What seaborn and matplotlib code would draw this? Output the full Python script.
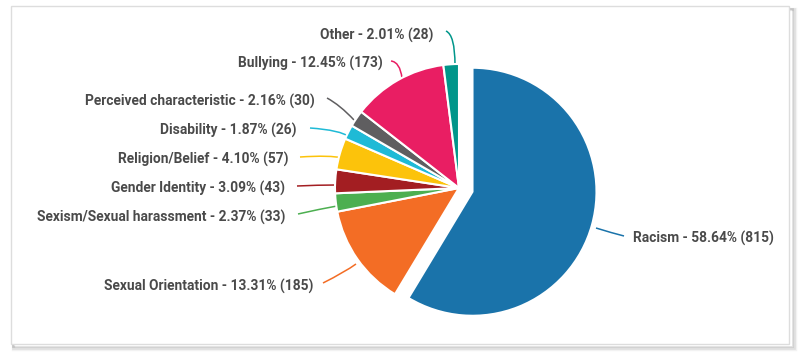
import matplotlib
matplotlib.use("Agg")
import matplotlib.pyplot as plt
import seaborn as sns
from matplotlib.patches import Rectangle
from matplotlib.path import Path
from matplotlib.patches import PathPatch

sns.set_theme(style="white")
plt.rcParams['font.family'] = ['Roboto', 'DejaVu Sans']

categories = ["Racism", "Sexual Orientation", "Sexism/Sexual harassment", "Gender Identity",
              "Religion/Belief", "Disability", "Perceived characteristic", "Bullying", "Other"]
counts = [815, 185, 33, 43, 57, 26, 30, 173, 28]
percents = ["58.64%", "13.31%", "2.37%", "3.09%", "4.10%", "1.87%", "2.16%", "12.45%", "2.01%"]
colors = ["#1a73aa", "#f36d25", "#4caf50", "#a31e22", "#fcc30b", "#1fbad6", "#5f5e60", "#e91e63", "#00968a"]

W, H = 800, 359
fig = plt.figure(figsize=(W / 100, H / 100), dpi=100)
ax = fig.add_axes([0, 0, 1, 1])
ax.set_xlim(0, W)
ax.set_ylim(H, 0)
ax.axis("off")

# card with shadow
for i, a in enumerate([0.05, 0.08, 0.12]):
    ax.add_patch(Rectangle((13, 9), 779 + (3 - i), 337 + (3 - i),
                           facecolor="none", edgecolor=(0, 0, 0, a), lw=2.5 - i * 0.6, zorder=0))
ax.add_patch(Rectangle((11, 6), 778, 338, facecolor="white", edgecolor="#dddddd", lw=1, zorder=1))

# pie drawn in a separate axes with y-up coordinates
pax = fig.add_axes([0, 0, 1, 1])
cx, cy, r = 459, H - 188, 124
explode = [14] + [0] * (len(counts) - 1)
wedges, _ = pax.pie(counts, colors=colors, startangle=90, counterclock=False, radius=r,
                    center=(cx, cy), explode=explode, frame=True,
                    wedgeprops=dict(edgecolor="white", linewidth=1.5))
pax.set_xlim(0, W)
pax.set_ylim(0, H)
pax.set_aspect("auto")
pax.axis("off")

# labels (pixel coordinates, y down) : text anchor, leader line points
label_specs = [
    (633, 238, "left", [(596, 228), (612, 233), (624, 236)]),
    (313, 286, "right", [(323, 283), (345, 272), (356, 264)]),
    (285, 217, "right", [(298, 214), (320, 209), (337, 206)]),
    (285, 188, "right", [(297, 186), (318, 185), (336, 185)]),
    (288, 159, "right", [(300, 157), (330, 155), (343, 158)]),
    (297, 130, "right", [(310, 128), (340, 130), (350, 137)]),
    (315, 101, "right", [(327, 98), (340, 105), (354, 120)]),
    (383, 63, "right", [(391, 61), (400, 62), (402, 78)]),
    (433, 35, "right", [(446, 31), (455, 35), (455, 65)]),
]

for (tx, ty, ha, pts), cat, cnt, pct, col in zip(label_specs, categories, counts, percents, colors):
    ax.text(tx, ty, f"{cat} - {pct} ({cnt})", ha=ha, va="center", fontsize=9.9,
            fontweight="bold", color="#4a4a4a", zorder=5)
    path = Path(pts, [Path.MOVETO, Path.CURVE3, Path.CURVE3])
    ax.add_patch(PathPatch(path, facecolor="none", edgecolor=col, lw=1.1, zorder=5))

fig.savefig("out.png", dpi=100)
